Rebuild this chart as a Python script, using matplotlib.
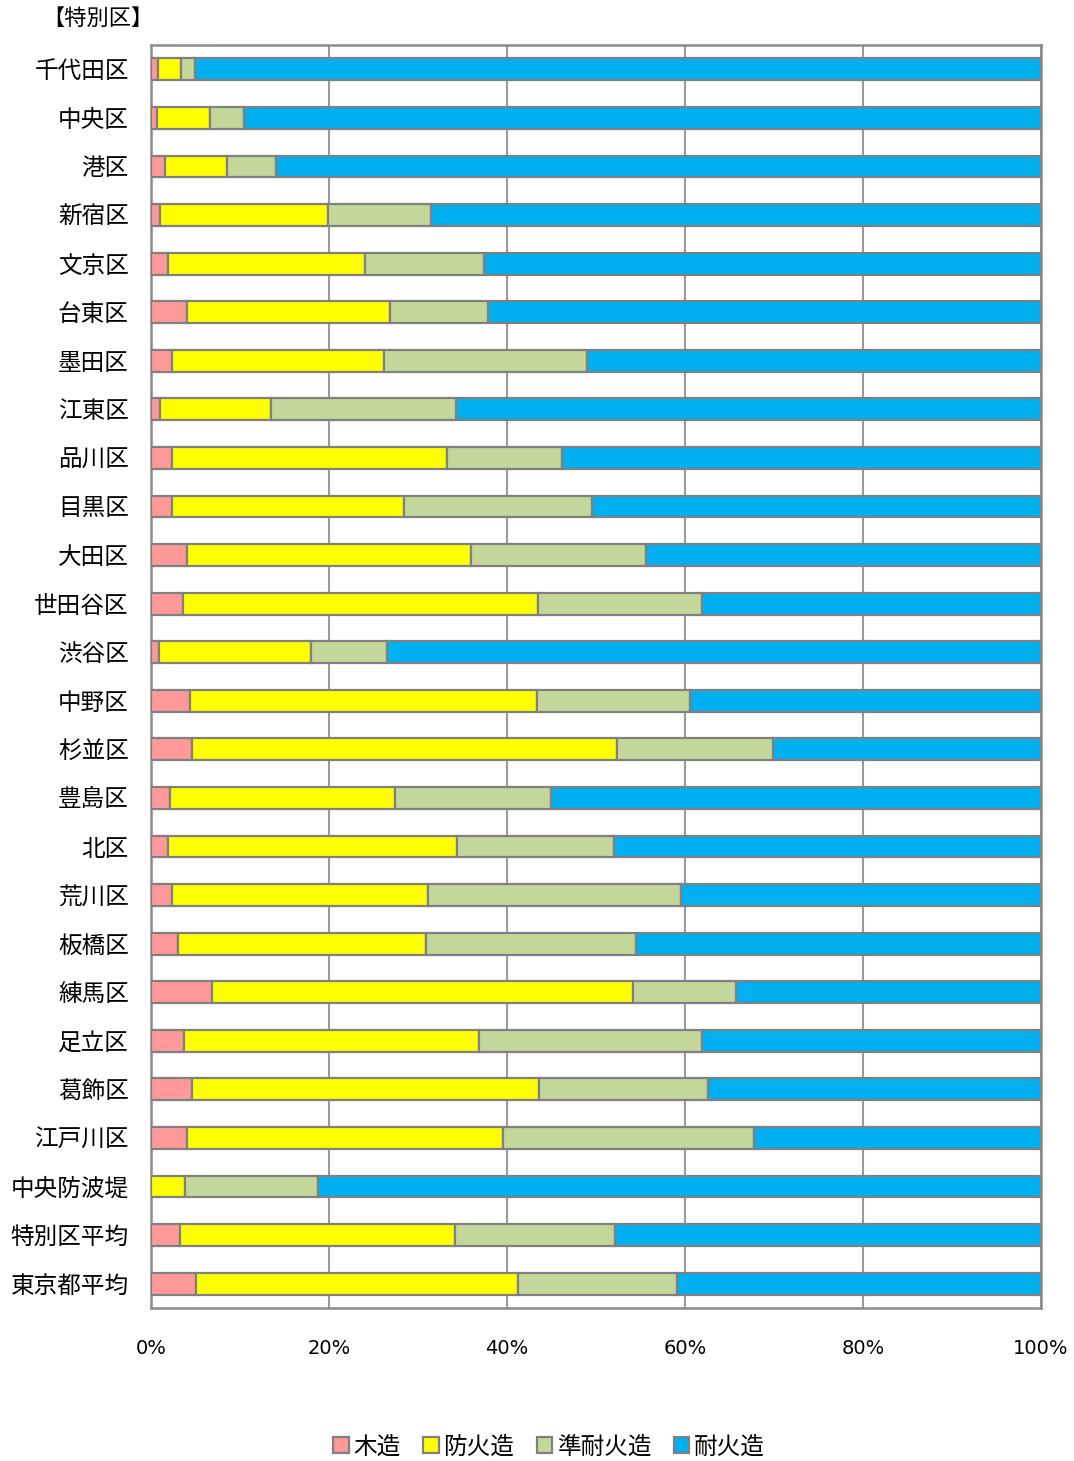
import matplotlib
matplotlib.use("Agg")
import matplotlib.pyplot as plt
import numpy as np

plt.rcParams['font.family'] = ['Noto Sans CJK JP', 'DejaVu Sans']

wards = ["千代田区", "中央区", "港区", "新宿区", "文京区", "台東区", "墨田区", "江東区",
         "品川区", "目黒区", "大田区", "世田谷区", "渋谷区", "中野区", "杉並区", "豊島区",
         "北区", "荒川区", "板橋区", "練馬区", "足立区", "葛飾区", "江戸川区", "中央防波堤",
         "特別区平均", "東京都平均"]

series_names = ["木造", "防火造", "準耐火造", "耐火造"]

mokuzo = [0.8, 0.7, 1.6, 1.0, 1.9, 4.1, 2.4, 1.0, 2.4, 2.4, 4.0, 3.6, 0.9, 4.4, 4.6, 2.1,
          1.9, 2.4, 3.0, 6.8, 3.7, 4.6, 4.1, 0.0, 3.3, 5.0]
bouka = [2.6, 5.9, 6.9, 18.9, 22.1, 22.8, 23.8, 12.5, 30.9, 26.0, 31.9, 39.9, 17.1, 39.0, 47.8, 25.3,
         32.5, 28.7, 27.9, 47.4, 33.2, 39.0, 35.4, 3.8, 30.9, 36.2]
juntaika = [1.5, 3.9, 5.5, 11.6, 13.4, 11.0, 22.8, 20.8, 12.9, 21.2, 19.7, 18.4, 8.5, 17.2, 17.5, 17.5,
            17.6, 28.5, 23.6, 11.5, 25.0, 19.0, 28.2, 15.0, 17.9, 17.9]
taika = [95.1, 89.5, 86.0, 68.5, 62.6, 62.1, 51.0, 65.7, 53.8, 50.4, 44.4, 38.1, 73.5, 39.4, 30.1, 55.1,
         48.0, 40.4, 45.5, 34.3, 38.1, 37.4, 32.3, 81.2, 47.9, 40.9]

colors = ["#FF9999", "#FFFF00", "#C4D79B", "#00B0F0"]

fig = plt.figure(figsize=(10.74, 14.61), dpi=100)
ax = fig.add_axes([151/1074, 1 - 1308/1461, (1041-151)/1074, (1308-45)/1461])

y = np.arange(len(wards))
left = np.zeros(len(wards))
for name, vals, c in zip(series_names, [mokuzo, bouka, juntaika, taika], colors):
    vals = np.array(vals)
    ax.barh(y, vals, left=left, height=0.45, color=c, edgecolor="#808080",
            linewidth=1.6, label=name, zorder=3)
    left += vals

ax.set_xlim(0, 100)
ax.set_ylim(len(wards) - 0.5, -0.5)
ax.set_yticks(y)
ax.set_yticklabels(wards, fontsize=17)
ax.set_xticks([0, 20, 40, 60, 80, 100])
ax.set_xticklabels(["0%", "20%", "40%", "60%", "80%", "100%"], fontsize=14,
                   family=['DejaVu Sans'])
ax.tick_params(axis='y', length=0, pad=16)
ax.tick_params(axis='x', length=0, pad=22)
ax.xaxis.grid(True, color="#9a9a9a", linewidth=1.5, zorder=0)
ax.set_axisbelow(True)
for s in ax.spines.values():
    s.set_color("#8c8c8c")
    s.set_linewidth(1.8)

fig.text(42/1074, 1 - 18/1461, "【特別区】", fontsize=16, va='center', ha='left')

handles, labels = ax.get_legend_handles_labels()
fig.legend(handles, labels, loc='center', bbox_to_anchor=(549/1074, 1 - 1447/1461),
           ncol=4, frameon=False, fontsize=17, handlelength=0.65, handleheight=0.65,
           handletextpad=0.2, columnspacing=0.95)

fig.savefig("out.png", dpi=100, facecolor="white")
